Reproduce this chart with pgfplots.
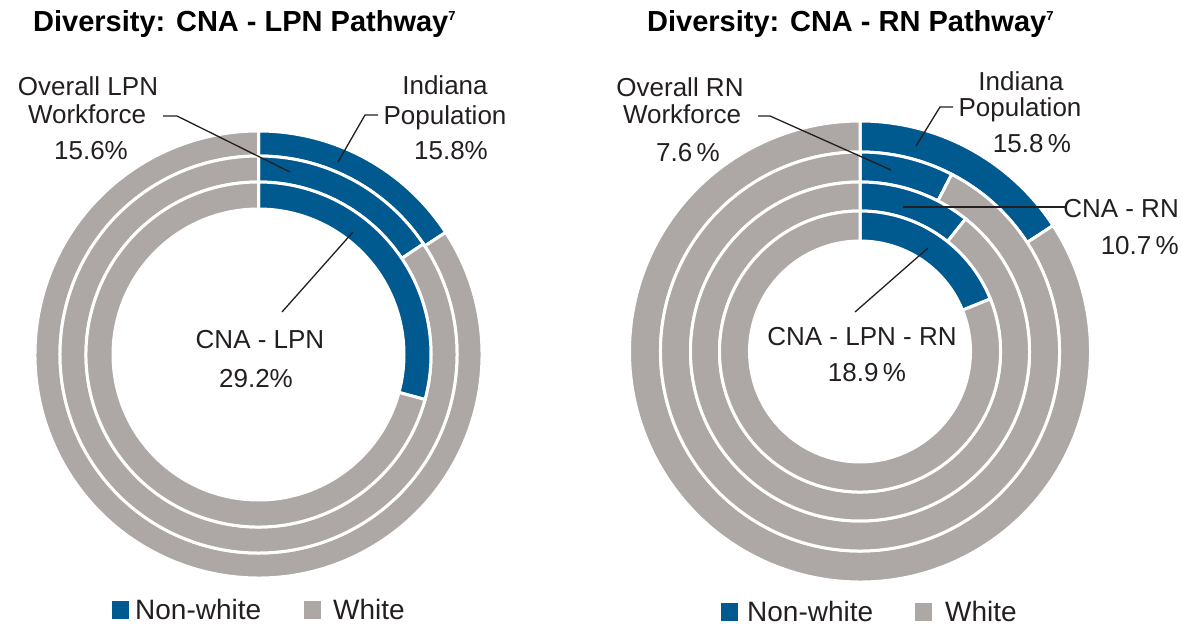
\documentclass[border=0pt]{standalone}
\usepackage{fontspec}
\setmainfont{Liberation Sans}
\usepackage{pgfplots}
\pgfplotsset{compat=1.18}
\definecolor{nonwhite}{HTML}{005A8F}
\definecolor{whitegrp}{HTML}{ADA7A5}
\definecolor{txt}{HTML}{231F20}

% \ring{cx}{cy}{inner radius}{outer radius}{non-white percent}
\newcommand{\ring}[5]{%
  \fill[nonwhite, draw=white, line width=3pt, shift={(axis cs:#1,#2)}]
    (90:#4pt) arc[start angle=90, end angle={90-3.6*#5}, radius=#4pt]
    -- ({90-3.6*#5}:#3pt) arc[start angle={90-3.6*#5}, end angle=90, radius=#3pt] -- cycle;
  \fill[whitegrp, draw=white, line width=3pt, shift={(axis cs:#1,#2)}]
    ({90-3.6*#5}:#4pt) arc[start angle={90-3.6*#5}, end angle=-270, radius=#4pt]
    -- (-270:#3pt) arc[start angle=-270, end angle={90-3.6*#5}, radius=#3pt] -- cycle;
}
\newcommand{\lab}{\fontsize{26}{31}\selectfont\color{txt}}
\newcommand{\leg}{\fontsize{28}{33}\selectfont\color{txt}}
\newcommand{\ttl}{\fontsize{29}{35}\selectfont\bfseries\color{black}}

\begin{document}
\begin{tikzpicture}
\useasboundingbox (0,0) rectangle (1182pt,627pt);
\begin{axis}[
  scale only axis, width=1182pt, height=627pt,
  xmin=0, xmax=1182, ymin=0, ymax=627,
  hide axis, clip=false]

% ---------- Left: CNA - LPN pathway ----------
% outer: Indiana Population 15.8; middle: Overall LPN Workforce 15.6; inner: CNA-LPN 29.2
\ring{258.5}{272.5}{198.5}{223.5}{15.8}
\ring{258.5}{272.5}{172.5}{198.5}{15.6}
\ring{258.5}{272.5}{145.5}{172.5}{29.2}

\node[anchor=base west, inner sep=0pt] at (axis cs:33,595) {\ttl Diversity: CNA - LPN Pathway\raisebox{11pt}{\fontsize{13}{13}\selectfont 7}};

\node[anchor=base, inner sep=0pt] at (axis cs:88,531) {\lab Overall LPN};
\node[anchor=base, inner sep=0pt] at (axis cs:87,503) {\lab Workforce};
\node[anchor=base, inner sep=0pt] at (axis cs:91,467) {\lab 15.6\%};
\draw[txt, line width=1.3pt] (axis cs:163,511) -- (axis cs:177,511) -- (axis cs:290,455);

\node[anchor=base, inner sep=0pt] at (axis cs:445,532) {\lab Indiana};
\node[anchor=base, inner sep=0pt] at (axis cs:445,502) {\lab Population};
\node[anchor=base, inner sep=0pt] at (axis cs:451,467) {\lab 15.8\%};
\draw[txt, line width=1.3pt] (axis cs:378,512) -- (axis cs:365,512) -- (axis cs:338,465);

\node[anchor=base, inner sep=0pt] at (axis cs:260,279) {\lab CNA - LPN};
\node[anchor=base, inner sep=0pt] at (axis cs:256,240) {\lab 29.2\%};
\draw[txt, line width=1.3pt] (axis cs:353,395) -- (axis cs:282,315);

\fill[nonwhite] (axis cs:112,8) rectangle (axis cs:129,26);
\node[anchor=base west, inner sep=0pt] at (axis cs:135,8) {\leg Non-white};
\fill[whitegrp] (axis cs:304,8) rectangle (axis cs:321,26);
\node[anchor=base west, inner sep=0pt] at (axis cs:333,8) {\leg White};

% ---------- Right: CNA - RN pathway ----------
% outer: Indiana Population 15.8; Overall RN Workforce 7.6; CNA-RN 10.7; inner: CNA-LPN-RN 18.9
\ring{860}{275.5}{199.5}{230.5}{15.8}
\ring{860}{275.5}{169.5}{199.5}{7.6}
\ring{860}{275.5}{140.5}{169.5}{10.7}
\ring{860}{275.5}{110.5}{140.5}{18.9}

\node[anchor=base west, inner sep=0pt] at (axis cs:647,595) {\ttl Diversity: CNA - RN Pathway\raisebox{11pt}{\fontsize{13}{13}\selectfont 7}};

\node[anchor=base, inner sep=0pt] at (axis cs:680,530) {\lab Overall RN};
\node[anchor=base, inner sep=0pt] at (axis cs:682,503) {\lab Workforce};
\node[anchor=base, inner sep=0pt] at (axis cs:688,465) {\lab 7.6\,\%};
\draw[txt, line width=1.3pt] (axis cs:758,511) -- (axis cs:770,511) -- (axis cs:891,457);

\node[anchor=base, inner sep=0pt] at (axis cs:1021,536) {\lab Indiana};
\node[anchor=base, inner sep=0pt] at (axis cs:1020,510) {\lab Population};
\node[anchor=base, inner sep=0pt] at (axis cs:1032,474) {\lab 15.8\,\%};
\draw[txt, line width=1.3pt] (axis cs:953,520) -- (axis cs:940,520) -- (axis cs:916,481);

\node[anchor=base east, inner sep=0pt] at (axis cs:1179,409) {\lab CNA - RN};
\node[anchor=base east, inner sep=0pt] at (axis cs:1179,372) {\lab 10.7\,\%};
\draw[txt, line width=1.3pt] (axis cs:1066,420) -- (axis cs:903,420);

\node[anchor=base, inner sep=0pt] at (axis cs:862,282) {\lab CNA - LPN - RN};
\node[anchor=base, inner sep=0pt] at (axis cs:867,246) {\lab 18.9\,\%};
\draw[txt, line width=1.3pt] (axis cs:928,379) -- (axis cs:855,315);

\fill[nonwhite] (axis cs:721,6) rectangle (axis cs:738,24);
\node[anchor=base west, inner sep=0pt] at (axis cs:747,6) {\leg Non-white};
\fill[whitegrp] (axis cs:915,6) rectangle (axis cs:932,24);
\node[anchor=base west, inner sep=0pt] at (axis cs:945,6) {\leg White};

\end{axis}
\end{tikzpicture}
\end{document}
